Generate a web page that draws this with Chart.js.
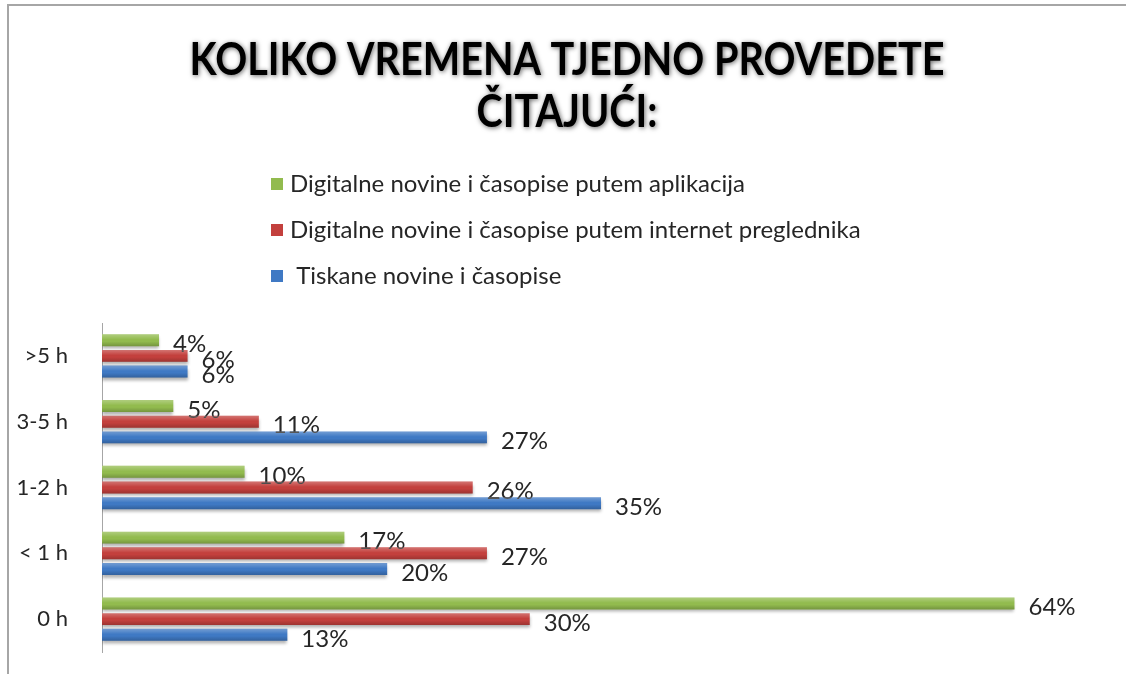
<!DOCTYPE html>
<html>
<head>
<meta charset="utf-8">
<title>Koliko vremena tjedno provedete čitajući</title>
<script src="https://cdn.jsdelivr.net/npm/chart.js@4.4.0/dist/chart.umd.min.js"></script>
<style>
  html, body { margin: 0; padding: 0; background: #fff; }
  #wrap { width: 1126px; height: 674px; position: relative; }
</style>
</head>
<body>
<div id="wrap"><canvas id="readingChart" width="1126" height="674"></canvas></div>
<script>
// chart data
const titleLines = ['KOLIKO VREMENA TJEDNO PROVEDETE', 'ČITAJUĆI:'];
const categories = ['>5 h', '3-5 h', '1-2 h', '< 1 h', '0 h'];
const seriesNames = [
    'Digitalne novine i časopise putem aplikacija',
    'Digitalne novine i časopise putem internet preglednika',
    ' Tiskane novine i časopise'
];
const appValues = [4, 5, 10, 17, 64];
const browserValues = [6, 11, 26, 27, 30];
const printValues = [6, 27, 35, 20, 13];

const seriesColors = ['#92bb4e', '#c3403d', '#3f79c4'];
const FONT = 'Lato, "Open Sans", sans-serif';
const TEXT = '#262626';

// frame, title and the stacked legend at the top
const decorPlugin = {
    id: 'decor',
    beforeDraw(chart) {
        const ctx = chart.ctx;
        ctx.save();
        ctx.strokeStyle = '#a6a6a6';
        ctx.lineWidth = 2;
        ctx.beginPath();
        ctx.moveTo(8, chart.height);
        ctx.lineTo(8, 5);
        ctx.lineTo(chart.width, 5);
        ctx.stroke();
        ctx.restore();

        // title with soft shadow
        ctx.save();
        ctx.font = 'bold 46px ' + FONT;
        ctx.textAlign = 'center';
        ctx.textBaseline = 'alphabetic';
        ctx.fillStyle = '#000';
        ctx.shadowColor = 'rgba(0,0,0,0.6)';
        ctx.shadowBlur = 5;
        ctx.shadowOffsetX = 1;
        ctx.shadowOffsetY = 1;
        const w = ctx.measureText(titleLines[0]).width;
        const sx = Math.min(1, 755 / w);
        ctx.translate(567, 0);
        ctx.scale(sx, 1);
        ctx.fillText(titleLines[0], 0, 75);
        ctx.fillText(titleLines[1], 0, 127);
        ctx.restore();

        // legend, one item per row
        ctx.save();
        ctx.font = '24px ' + FONT;
        ctx.textBaseline = 'middle';
        ctx.textAlign = 'left';
        chart.data.datasets.forEach((ds, i) => {
            const y = 184 + i * 46;
            ctx.fillStyle = ds.backgroundColor;
            ctx.fillRect(271, y - 6, 12, 12);
            ctx.fillStyle = TEXT;
            ctx.fillText(ds.label, 290, y);
        });
        ctx.restore();
    },
    beforeDatasetsDraw(chart) {
        const ctx = chart.ctx;
        ctx.save();
        ctx.shadowColor = 'rgba(0,0,0,0.3)';
        ctx.shadowBlur = 3;
        ctx.shadowOffsetY = 3;
    },
    afterDatasetsDraw(chart) {
        const ctx = chart.ctx;
        ctx.restore();

        chart.data.datasets.forEach((ds, di) => {
            const meta = chart.getDatasetMeta(di);
            meta.data.forEach((bar, i) => {
                // glossy shading on each bar
                const top = bar.y - bar.height / 2;
                const g = ctx.createLinearGradient(0, top, 0, top + bar.height);
                g.addColorStop(0, 'rgba(255,255,255,0.28)');
                g.addColorStop(0.45, 'rgba(255,255,255,0)');
                g.addColorStop(0.6, 'rgba(0,0,0,0)');
                g.addColorStop(1, 'rgba(0,0,0,0.2)');
                ctx.fillStyle = g;
                ctx.fillRect(bar.base, top, bar.x - bar.base, bar.height);

                // value label
                ctx.save();
                ctx.font = '24px ' + FONT;
                ctx.fillStyle = TEXT;
                ctx.textAlign = 'left';
                ctx.textBaseline = 'middle';
                ctx.fillText(ds.data[i] + '%', bar.x + 14, bar.y + 4);
                ctx.restore();
            });
        });
    }
};

new Chart(document.getElementById('readingChart'), {
    type: 'bar',
    data: {
        labels: categories,
        datasets: [
            {label: seriesNames[0], data: appValues, backgroundColor: seriesColors[0]},
            {label: seriesNames[1], data: browserValues, backgroundColor: seriesColors[1]},
            {label: seriesNames[2], data: printValues, backgroundColor: seriesColors[2]}
        ]
    },
    options: {
        indexAxis: 'y',
        responsive: false,
        animation: false,
        datasets: {
            bar: {barPercentage: 0.76, categoryPercentage: 0.715}
        },
        layout: {padding: {top: 323, bottom: 22, left: 0, right: 26}},
        plugins: {
            legend: {display: false},
            title: {display: false},
            tooltip: {enabled: false}
        },
        scales: {
            x: {display: false, min: 0, max: 70},
            y: {
                grid: {display: false, drawTicks: false},
                border: {display: true, color: '#a6a6a6', width: 1},
                ticks: {padding: 34, color: TEXT, font: {family: FONT, size: 22}},
                afterFit(scale) {
                    // fixed label column; tick padding should not eat vertical space
                    scale.width = 102;
                    scale.paddingTop = 0;
                    scale.paddingBottom = 0;
                }
            }
        }
    },
    plugins: [decorPlugin]
});
</script>
</body>
</html>
